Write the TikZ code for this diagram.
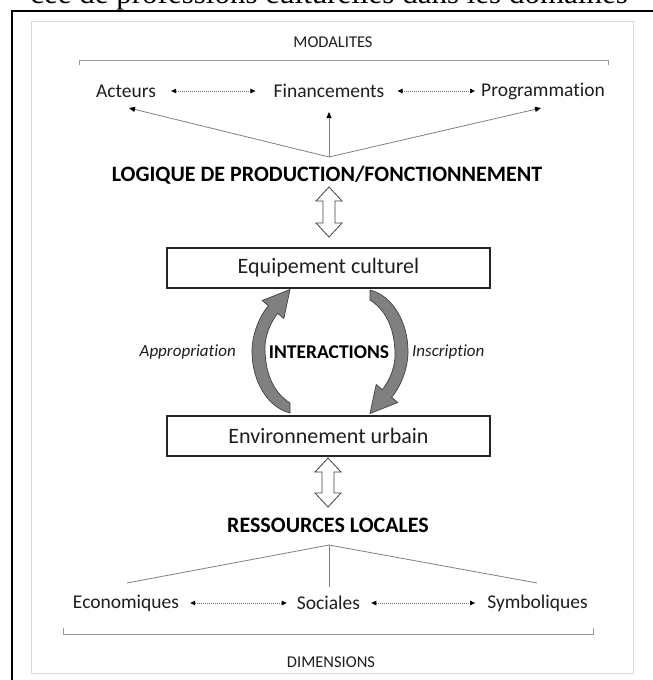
\documentclass[tikz,border=0pt]{standalone}
\usepackage{fontspec}
\setmainfont{Carlito}[Ligatures={NoCommon,NoContextual}]
\newfontfamily\serifx{Liberation Serif}
\usetikzlibrary{arrows.meta,calc}
\definecolor{txtc}{HTML}{1E1E1E}
\begin{document}
\begin{tikzpicture}[x=1pt,y=-1pt,
  txt/.style={text=txtc, inner sep=1pt, font=\fontsize{19.5}{22}\selectfont},
  headtxt/.style={text=black, inner sep=1pt, font=\fontsize{22}{26}\selectfont\bfseries},
  boxnode/.style={draw=black!85, line width=1.1pt, minimum width=323pt, minimum height=40pt, inner sep=0pt, font=\fontsize{22}{26}\selectfont, text=txtc},
  lbl/.style={text=txtc, inner sep=1pt, font=\fontsize{17}{20}\selectfont\itshape},
  dimtxt/.style={text=txtc, inner sep=1pt, font=\fontsize{16.5}{19}\selectfont},
  link/.style={draw=black!50, line width=0.8pt},
  linkarr/.style={link, -{Triangle[length=6pt,width=5pt,color=black]}},
  dotarr/.style={draw=black!55, line width=0.7pt, dash pattern=on 0.9pt off 1.1pt,
    {Triangle[length=5pt,width=4.5pt,color=black]}-{Triangle[length=5pt,width=4.5pt,color=black]}},
  bracket/.style={draw=black!40, line width=0.9pt},
  dblarrow/.style={draw=black!75, fill=white, line width=0.8pt, line join=miter},
  curvarrow/.style={draw=black!75, fill=black!50, line width=0.7pt, line join=miter}
]
\useasboundingbox (0,0) rectangle (653,680);
\clip (0,0) rectangle (653,680);
\fill[white] (0,0) rectangle (653,680);

% cropped heading text at the top
\node[anchor=base east, inner sep=0pt, font=\serifx\fontsize{31}{34}\selectfont] (cut) at (628,4)
  {cée de professions culturelles dans les domaines};

% frames
\draw[black, line width=2.2pt] (12,680) -- (12,11) -- (653,11);
\draw[black!15, line width=0.8pt] (31,21) rectangle (633,673);

% top part
\node[dimtxt] (mod) at (333,42) {MODALITES};
\draw[bracket] (79,65) -- (79,60) -- (608,60) -- (608,65);

\node[txt] (act) at (126,91) {Acteurs};
\node[txt] (fin) at (329,91) {Financements};
\node[txt] (prog) at (543,91) {Programmation};
\draw[dotarr, shorten <=14pt, shorten >=17pt] (act) -- (fin);
\draw[dotarr, shorten <=12pt, shorten >=5pt] (fin) -- (prog);

\node[headtxt] (log) at (327,175) {LOGIQUE DE PRODUCTION/FONCTIONNEMENT};
\coordinate (top) at (329,157);
\coordinate (t1) at (129,108);
\coordinate (t2) at (329,112);
\coordinate (t3) at (541,108);
\draw[linkarr] (top) -- (t1);
\draw[linkarr] (top) -- (t2);
\draw[linkarr] (top) -- (t3);

% upper double arrow
\draw[dblarrow] (329,187) -- (342,201) -- (335,201) -- (335,223) -- (342,223) -- (329,237)
  -- (316,223) -- (323,223) -- (323,201) -- (316,201) -- cycle;

% boxes
\node[boxnode] (equip) at (328.5,268) {Equipement culturel};
\node[boxnode] (env) at (328.5,436) {Environnement urbain};

% curved arrows
\begin{scope}[shift={(330,351.5)}]
\path[curvarrow] (-40,61.5) .. controls (-62,56) and (-78,30) .. (-78,0)
  .. controls (-78,-18) and (-70,-36) .. (-61.6,-45.8) -- (-67.8,-51) -- (-40,-62)
  -- (-46.2,-33) -- (-52.4,-38.2) .. controls (-60,-28) and (-66,-14) .. (-65,0)
  .. controls (-64,25) and (-55,42) .. (-40,51.5) -- cycle;
\end{scope}
\begin{scope}[shift={(330,351.5)},rotate=180]
\path[curvarrow] (-40,61.5) .. controls (-62,56) and (-78,30) .. (-78,0)
  .. controls (-78,-18) and (-70,-36) .. (-61.6,-45.8) -- (-67.8,-51) -- (-40,-62)
  -- (-46.2,-33) -- (-52.4,-38.2) .. controls (-60,-28) and (-66,-14) .. (-65,0)
  .. controls (-64,25) and (-55,42) .. (-40,51.5) -- cycle;
\end{scope}

\node[lbl, anchor=east] (appr) at (237,352) {Appropriation};
\node[headtxt, font=\fontsize{19.5}{22}\selectfont\bfseries] (inter) at (329,352) {INTERACTIONS};
\node[lbl, anchor=west] (insc) at (411,352) {Inscription};

% lower double arrow
\draw[dblarrow] (328,458) -- (341,472) -- (334,472) -- (334,493) -- (341,493) -- (328,507)
  -- (315,493) -- (322,493) -- (322,472) -- (315,472) -- cycle;

\node[headtxt] (res) at (328,525) {RESSOURCES LOCALES};
\coordinate (bot) at (329,545);
\coordinate (b1) at (127,583);
\coordinate (b2) at (329,587);
\coordinate (b3) at (537,583);
\draw[link] (bot) -- (b1);
\draw[link] (bot) -- (b2);
\draw[link] (bot) -- (b3);

\node[txt] (eco) at (126,603) {Economiques};
\node[txt] (soc) at (328.5,603) {Sociales};
\node[txt] (sym) at (537.5,603) {Symboliques};
\draw[dotarr, shorten <=10pt, shorten >=9pt] (eco) -- (soc);
\draw[dotarr, shorten <=10pt, shorten >=11pt] (soc) -- (sym);

\draw[bracket] (63,628) -- (63,634) -- (593,634) -- (593,628);
\node[dimtxt] (dim) at (331,662) {DIMENSIONS};
\end{tikzpicture}
\end{document}
